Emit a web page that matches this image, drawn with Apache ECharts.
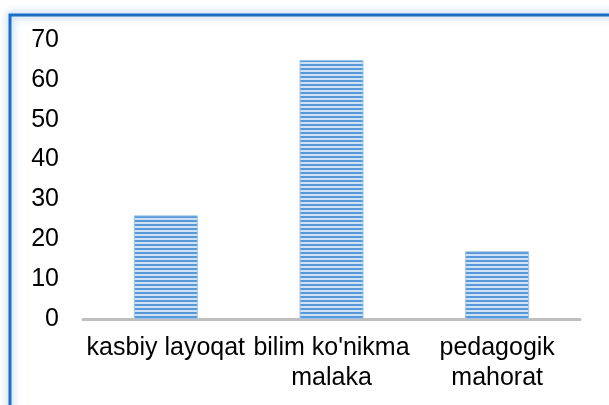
<!DOCTYPE html>
<html>
<head>
<meta charset="utf-8">
<script src="https://cdn.jsdelivr.net/npm/echarts@6/dist/echarts.min.js"></script>
<style>
  html, body { margin: 0; padding: 0; background: #fff; }
  #chart { width: 609px; height: 405px; }
</style>
</head>
<body>
<div id="chart"></div>
<script>
const categories = ['kasbiy layoqat', "bilim ko'nikma\nmalaka", 'pedagogik\nmahorat'];
const values = [26, 65, 17];
const yTicks = { min: 0, max: 70, interval: 10 };

// Horizontal striped fill for the bars
function stripePattern() {
  const c = document.createElement('canvas');
  c.width = 4; c.height = 4;
  const ctx = c.getContext('2d');
  ctx.fillStyle = '#cfe2f5';
  ctx.fillRect(0, 0, 4, 4);
  ctx.fillStyle = '#5898d8';
  ctx.fillRect(0, 0, 4, 2);
  return c;
}

const chart = echarts.init(document.getElementById('chart'), null, { renderer: 'canvas' });
const font = '"Liberation Sans", Arial, sans-serif';

chart.setOption({
  backgroundColor: '#ffffff',
  animation: false,
  grid: { left: 83, right: 29, top: 40, bottom: 86 },
  xAxis: {
    type: 'category',
    data: categories,
    axisLine: { lineStyle: { color: '#bfbfbf', width: 3 } },
    axisTick: { show: false },
    axisLabel: {
      color: '#000', fontFamily: font, fontSize: 25, lineHeight: 30,
      margin: 14, interval: 0, align: 'center'
    }
  },
  yAxis: {
    type: 'value',
    min: yTicks.min, max: yTicks.max, interval: yTicks.interval,
    splitLine: { show: false },
    axisLine: { show: false },
    axisTick: { show: false },
    axisLabel: { color: '#000', fontFamily: font, fontSize: 25, margin: 24 }
  },
  series: [{
    type: 'bar',
    data: values,
    barWidth: 64,
    itemStyle: {
      color: { image: stripePattern(), repeat: 'repeat' },
      borderColor: '#9cc3ea',
      borderWidth: 1
    }
  }],
  graphic: [{
    type: 'rect',
    shape: { x: 10, y: 15, width: 640, height: 440 },
    style: {
      fill: 'none', stroke: '#1a6fc4', lineWidth: 3,
      shadowBlur: 8, shadowColor: 'rgba(30,110,200,0.55)'
    },
    silent: true
  }]
});
</script>
</body>
</html>
